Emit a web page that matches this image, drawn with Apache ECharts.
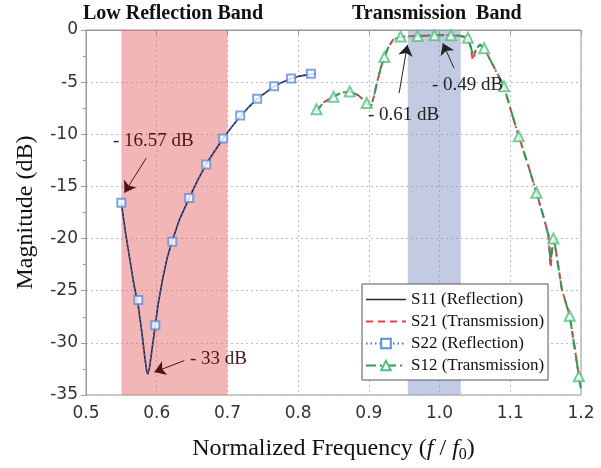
<!DOCTYPE html>
<html>
<head>
<meta charset="utf-8">
<script src="https://cdn.jsdelivr.net/npm/echarts@6/dist/echarts.min.js"></script>
<style>html,body{margin:0;padding:0;background:#fff}#c{width:601px;height:468px}</style>
</head>
<body>
<div id="c"></div>
<script>
// ---- data ----
const xTicks = [0.5, 0.6, 0.7, 0.8, 0.9, 1.0, 1.1, 1.2];
const yTicks = [0, -5, -10, -15, -20, -25, -30, -35];

// S11 (reflection) curve
const s11 = [[0.550,-16.57],[0.556,-19.5],[0.562,-22.0],[0.568,-24.5],[0.574,-26.5],[0.579,-29.0],[0.583,-31.3],[0.586,-32.8],[0.5875,-33.0],[0.590,-32.3],[0.593,-30.8],[0.597,-28.8],[0.602,-26.3],[0.608,-24.0],[0.615,-21.8],[0.622,-20.2],[0.632,-18.2],[0.646,-16.1],[0.658,-14.4],[0.670,-12.85],[0.682,-11.6],[0.694,-10.4],[0.706,-9.3],[0.718,-8.3],[0.730,-7.4],[0.742,-6.6],[0.754,-6.0],[0.766,-5.4],[0.778,-5.0],[0.790,-4.65],[0.802,-4.42],[0.814,-4.28],[0.825,-4.2]];
// S22 (reflection) curve (overlaps S11) and its square markers
const s22 = s11;
const s22Markers = [[0.550,-16.57],[0.574,-25.9],[0.598,-28.3],[0.622,-20.3],[0.646,-16.1],[0.670,-12.9],[0.694,-10.4],[0.718,-8.2],[0.742,-6.6],[0.766,-5.4],[0.790,-4.65],[0.818,-4.2]];
// S21 (transmission) curve
const s21 = [[0.825,-7.85],[0.836,-6.95],[0.850,-6.37],[0.862,-6.0],[0.873,-5.9],[0.885,-6.25],[0.897,-7.0],[0.903,-7.35],[0.907,-6.4],[0.912,-4.9],[0.917,-3.6],[0.922,-2.55],[0.928,-1.6],[0.934,-0.95],[0.944,-0.66],[0.955,-0.61],[0.969,-0.57],[0.981,-0.54],[0.993,-0.51],[1.005,-0.49],[1.016,-0.5],[1.028,-0.55],[1.038,-0.7],[1.043,-1.4],[1.047,-2.9],[1.051,-2.0],[1.057,-1.4],[1.063,-1.75],[1.075,-3.3],[1.091,-5.4],[1.100,-7.5],[1.112,-10.2],[1.125,-12.9],[1.137,-15.6],[1.147,-17.9],[1.154,-19.7],[1.157,-22.8],[1.160,-20.5],[1.162,-20.1],[1.173,-24.9],[1.184,-27.4],[1.192,-30.9],[1.197,-33.2],[1.200,-34.5]];
// S12 (transmission) curve and its triangle markers
const s12 = [[0.825,-7.85],[0.836,-6.95],[0.850,-6.37],[0.862,-6.0],[0.873,-5.9],[0.885,-6.25],[0.897,-7.0],[0.903,-7.35],[0.907,-6.4],[0.912,-4.9],[0.917,-3.6],[0.922,-2.55],[0.928,-1.6],[0.934,-0.95],[0.944,-0.66],[0.955,-0.61],[0.969,-0.57],[0.981,-0.54],[0.993,-0.51],[1.005,-0.49],[1.016,-0.5],[1.028,-0.55],[1.038,-0.7],[1.043,-1.3],[1.047,-2.4],[1.051,-1.9],[1.057,-1.4],[1.063,-1.75],[1.075,-3.3],[1.091,-5.4],[1.100,-7.5],[1.112,-10.2],[1.125,-12.9],[1.137,-15.6],[1.147,-17.9],[1.154,-19.7],[1.157,-22.3],[1.160,-20.5],[1.162,-20.1],[1.173,-24.9],[1.184,-27.4],[1.192,-30.9],[1.197,-33.2],[1.200,-34.5]];
const s12Markers = [[0.826,-7.6],[0.850,-6.4],[0.873,-5.9],[0.897,-7.0],[0.922,-2.6],[0.945,-0.62],[0.969,-0.57],[0.993,-0.51],[1.016,-0.5],[1.040,-0.75],[1.063,-1.75],[1.091,-5.4],[1.112,-10.2],[1.137,-15.6],[1.161,-20.0],[1.184,-27.4],[1.197,-33.2]];

// shaded bands [from, to]
const lowReflectionBand = [0.55, 0.70];
const transmissionBand = [0.955, 1.03];

// annotations: [textLabel, arrowFrom, arrowTo]
const annotations = [
  ['- 16.57 dB', [0.585,-12.3], [0.5544,-15.6]],
  ['- 33 dB', [0.639,-31.7], [0.5967,-32.8]],
  ['- 0.61 dB', [0.9428,-6.05], [0.9545,-1.43]],
  ['- 0.49 dB', [1.0205,-3.66], [1.0046,-1.27]]
];
const seriesNames = ['S11 (Reflection)', 'S21 (Transmission)', 'S22 (Reflection)', 'S12 (Transmission)'];

// ---- chart ----
const chart = echarts.init(document.getElementById('c'), null, {renderer: 'canvas'});
const serif = '"Liberation Serif", "Times New Roman", serif';
const sans = '"DejaVu Sans", sans-serif';
const annColors = ['#4a1414', '#4a1414', '#222', '#222'];
const annPos = [[113,141],[190,359],[368,115],[432,85]];
const solidIcon = 'path://M0,0h40v1.6h-40z';
const dashIcon = 'path://M0,0h7v2h-7z M12,0h7v2h-7z M24,0h7v2h-7z M36,0h4v2h-4z';

const option = {
  animation: false,
  backgroundColor: '#fff',
  grid: {left: 86, right: 20, top: 30, bottom: 73, show: true, borderColor: '#999', borderWidth: 1},
  xAxis: {
    type: 'value', min: xTicks[0], max: xTicks[xTicks.length-1], interval: 0.1,
    name: 'Normalized Frequency ({i|f} / {i|f}{sub|0})',
    nameLocation: 'middle', nameGap: 40,
    nameTextStyle: {fontFamily: serif, fontSize: 24, color: '#111',
      rich: {i: {fontFamily: serif, fontStyle: 'italic', fontSize: 24, color: '#111'},
             sub: {fontFamily: serif, fontSize: 16, color: '#111', padding: [12,0,0,0]}}},
    axisLine: {lineStyle: {color: '#999'}},
    axisTick: {show: true, inside: false, length: 5, lineStyle: {color: '#999'}},
    axisLabel: {fontFamily: sans, fontSize: 17, color: '#333', margin: 10, formatter: v => v.toFixed(1)},
    splitLine: {show: true, lineStyle: {color: '#bbb', type: [2,3]}}
  },
  yAxis: {
    type: 'value', min: yTicks[yTicks.length-1], max: yTicks[0], interval: 5,
    name: 'Magnitude (dB)', nameLocation: 'middle', nameGap: 48,
    nameTextStyle: {fontFamily: serif, fontSize: 24, color: '#111'},
    axisLine: {show: true, lineStyle: {color: '#999'}},
    axisTick: {show: true, inside: false, length: 5, lineStyle: {color: '#999'}},
    minorTick: {show: true, splitNumber: 2, length: 3, lineStyle: {color: '#999'}},
    axisLabel: {fontFamily: sans, fontSize: 17, color: '#333', margin: 8},
    splitLine: {show: true, lineStyle: {color: '#bbb', type: [2,3]}}
  },
  legend: {
    data: [
      {name: seriesNames[0], icon: solidIcon},
      {name: seriesNames[1], icon: dashIcon},
      {name: seriesNames[2]},
      {name: seriesNames[3]}
    ],
    orient: 'vertical', left: 362, top: 284,
    itemWidth: 40, itemHeight: 12, itemGap: 5,
    padding: [7, 4, 6, 3],
    backgroundColor: '#fff', borderColor: '#555', borderWidth: 1,
    textStyle: {fontFamily: serif, fontSize: 17, color: '#111'}
  },
  graphic: [
    {type: 'text', left: 83, top: 4, z: 100, style: {text: 'Low Reflection Band', font: 'bold 20px ' + serif, fill: '#111'}},
    {type: 'text', left: 352, top: 4, z: 100, style: {text: 'Transmission  Band', font: 'bold 20px ' + serif, fill: '#111'}}
  ].concat(annotations.map((a, i) => ({
    type: 'text', x: annPos[i][0], y: annPos[i][1], z: 100,
    style: {text: a[0], font: '19px ' + serif, fill: annColors[i], textVerticalAlign: 'middle'}
  }))),
  series: [
    {
      name: seriesNames[0], type: 'line', data: s11, symbol: 'none', z: 3,
      lineStyle: {color: '#262640', width: 1.6}, itemStyle: {color: '#262640'},
      markArea: {silent: true, itemStyle: {color: 'rgba(229,109,109,0.5)'},
        data: [[{xAxis: lowReflectionBand[0]}, {xAxis: lowReflectionBand[1]}],
               [{xAxis: transmissionBand[0], itemStyle: {color: 'rgba(135,151,199,0.5)'}}, {xAxis: transmissionBand[1]}]]},
      markLine: {silent: true, symbol: ['none', 'arrow'], symbolSize: 11, label: {show: false},
        data: annotations.map((a, i) => [
          {coord: a[1], lineStyle: {color: annColors[i], width: 1, type: 'solid'}, itemStyle: {color: annColors[i]}},
          {coord: a[2]}
        ])}
    },
    {
      name: seriesNames[1], type: 'line', data: s21, symbol: 'none', z: 3,
      lineStyle: {color: '#e5404a', width: 2, type: [7,5]}, itemStyle: {color: '#e5404a'}
    },
    {
      name: seriesNames[2], type: 'line', data: s22, symbol: 'emptyRect', showSymbol: false, symbolSize: 8, z: 4,
      lineStyle: {color: '#4a74d0', width: 1.4, type: [1.5,3]}, itemStyle: {color: '#5b8ee0', borderWidth: 1}
    },
    {
      name: seriesNames[3], type: 'line', data: s12, symbol: 'emptyTriangle', showSymbol: false, symbolSize: 10, z: 4,
      lineStyle: {color: '#2d9a58', width: 2, type: [10,4,2,4]}, itemStyle: {color: '#52c07e', borderWidth: 1}
    },
    {
      name: 'S22 markers', type: 'scatter', data: s22Markers, symbol: 'emptyRect', symbolSize: 8, z: 5,
      itemStyle: {color: '#5b8ee0', borderWidth: 1}
    },
    {
      name: 'S12 markers', type: 'scatter', data: s12Markers, symbol: 'emptyTriangle', symbolSize: 10, z: 5,
      itemStyle: {color: '#52c07e', borderWidth: 1}
    }
  ]
};
chart.setOption(option);
</script>
</body>
</html>
